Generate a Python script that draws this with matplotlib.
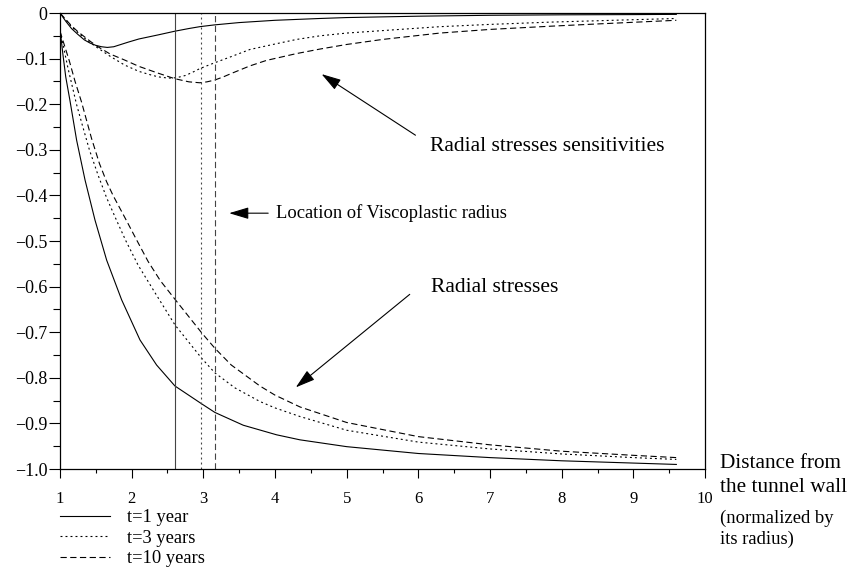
import matplotlib
matplotlib.use("Agg")
import matplotlib.pyplot as plt
from matplotlib.ticker import FixedLocator, FixedFormatter

plt.rcParams['font.family'] = ['Liberation Serif', 'DejaVu Serif']
plt.rcParams['lines.scale_dashes'] = False

# ---------------- data ----------------
# Radial stress sensitivities
sens_t1_x = [1.0, 1.08, 1.16, 1.25, 1.34, 1.42, 1.5, 1.58, 1.66, 1.75, 1.85, 1.95, 2.1, 2.25,
             2.37, 2.6, 2.8, 2.95, 3.16, 3.5, 4.0, 4.63, 5.0, 6.0, 7.0, 8.0, 9.0, 9.6]
sens_t1_y = [0.0, -0.018, -0.034, -0.047, -0.059, -0.066, -0.071, -0.074, -0.0755, -0.074,
             -0.069, -0.064, -0.057, -0.052, -0.048, -0.040, -0.034, -0.030, -0.026, -0.021,
             -0.016, -0.012, -0.010, -0.007, -0.005, -0.004, -0.0035, -0.003]

sens_t3_x = [1.0, 1.08, 1.16, 1.25, 1.34, 1.43, 1.53, 1.7, 1.9, 2.1, 2.25, 2.37, 2.47, 2.56,
             2.65, 2.75, 2.85, 2.95, 3.16, 3.4, 3.65, 4.0, 4.3, 4.63, 5.0, 5.74, 6.3, 7.0,
             7.84, 8.5, 9.6]
sens_t3_y = [0.0, -0.015, -0.030, -0.043, -0.055, -0.066, -0.077, -0.095, -0.114, -0.128,
             -0.135, -0.140, -0.142, -0.143, -0.141, -0.137, -0.130, -0.122, -0.109, -0.095,
             -0.080, -0.068, -0.058, -0.050, -0.044, -0.036, -0.030, -0.025, -0.020, -0.017,
             -0.012]

sens_t10_x = [1.0, 1.08, 1.16, 1.25, 1.34, 1.43, 1.53, 1.7, 1.9, 2.1, 2.37, 2.6, 2.8, 2.95,
              3.05, 3.16, 3.28, 3.4, 3.65, 3.88, 4.3, 4.63, 5.0, 5.5, 6.3, 7.0, 7.84, 8.5, 9.6]
sens_t10_y = [0.0, -0.014, -0.028, -0.041, -0.052, -0.063, -0.074, -0.090, -0.103, -0.117,
              -0.132, -0.144, -0.151, -0.153, -0.151, -0.147, -0.140, -0.132, -0.116, -0.104,
              -0.089, -0.079, -0.069, -0.058, -0.044, -0.036, -0.029, -0.024, -0.016]

# Radial stresses
stress_t1_x = [1.0, 1.04, 1.08, 1.14, 1.232, 1.349, 1.488, 1.651, 1.86, 2.116, 2.348, 2.604,
               2.976, 3.162, 3.557, 4.022, 4.347, 5.0, 6.0, 7.0, 8.0, 9.0, 9.6]
stress_t1_y = [-0.035, -0.09, -0.14, -0.193, -0.279, -0.366, -0.454, -0.542, -0.629, -0.717,
               -0.772, -0.818, -0.857, -0.876, -0.904, -0.925, -0.936, -0.951, -0.966,
               -0.975, -0.982, -0.987, -0.99]

stress_t3_x = [1.0, 1.05, 1.11, 1.17, 1.23, 1.31, 1.41, 1.53, 1.65, 1.79, 1.92, 2.09, 2.32,
               2.604, 2.976, 3.16, 3.44, 3.79, 4.0, 4.35, 5.0, 6.0, 7.0, 8.0, 9.0, 9.6]
stress_t3_y = [-0.04, -0.075, -0.12, -0.16, -0.20, -0.245, -0.30, -0.355, -0.405, -0.455,
               -0.50, -0.553, -0.612, -0.684, -0.757, -0.789, -0.822, -0.852, -0.866,
               -0.885, -0.915, -0.941, -0.956, -0.967, -0.975, -0.979]

stress_t10_x = [1.0, 1.05, 1.13, 1.21, 1.30, 1.44, 1.55, 1.65, 1.74, 1.93, 2.06, 2.23, 2.4,
                2.6, 2.98, 3.16, 3.39, 3.79, 4.0, 4.35, 5.0, 6.0, 7.0, 8.0, 9.0, 9.6]
stress_t10_y = [-0.04, -0.065, -0.105, -0.15, -0.195, -0.275, -0.33, -0.37, -0.40, -0.456,
                -0.495, -0.545, -0.587, -0.627, -0.702, -0.735, -0.772, -0.818, -0.838,
                -0.864, -0.898, -0.929, -0.947, -0.961, -0.970, -0.975]

# Viscoplastic radius locations
vp_radius = [2.6, 2.97, 3.16]

legend_labels = ["t=1 year", "t=3 years", "t=10 years"]
x_ticks = [1, 2, 3, 4, 5, 6, 7, 8, 9, 10]
x_minor = [1.5, 2.5, 3.5, 4.5, 5.5, 6.5, 7.5, 8.5, 9.5]
y_ticks = [0, -0.1, -0.2, -0.3, -0.4, -0.5, -0.6, -0.7, -0.8, -0.9, -1.0]
y_ticklabels = ["0", "\u22120.1", "\u22120.2", "\u22120.3", "\u22120.4", "\u22120.5",
                "\u22120.6", "\u22120.7", "\u22120.8", "\u22120.9", "\u22121.0"]
y_minor = [-0.05, -0.15, -0.25, -0.35, -0.45, -0.55, -0.65, -0.75, -0.85, -0.95]

# ---------------- styles ----------------
solid = '-'
dotted = (0, (1.4, 2.2))
dashed = (0, (4.5, 2.5))
styles = [solid, dotted, dashed]
lw = 0.8

W, H = 848, 573
fig = plt.figure(figsize=(W / 100, H / 100), dpi=100)
ax = fig.add_axes([60 / W, 1 - 469 / H, 645 / W, 456 / H])

handles = []
for xs, ys, st in [(sens_t1_x, sens_t1_y, solid), (sens_t3_x, sens_t3_y, dotted),
                   (sens_t10_x, sens_t10_y, dashed)]:
    ax.plot(xs, ys, color='black', lw=lw, linestyle=st)
for xs, ys, st, lab in [(stress_t1_x, stress_t1_y, solid, legend_labels[0]),
                        (stress_t3_x, stress_t3_y, dotted, legend_labels[1]),
                        (stress_t10_x, stress_t10_y, dashed, legend_labels[2])]:
    h, = ax.plot(xs, ys, color='black', lw=lw, linestyle=st, label=lab)
    handles.append(h)
for xv, st in zip(vp_radius, styles):
    ax.axvline(xv, color='#444444', lw=lw, linestyle=st)

ax.set_xlim(1, 10)
ax.set_ylim(-1, 0)
ax.xaxis.set_major_locator(FixedLocator(x_ticks))
ax.xaxis.set_major_formatter(FixedFormatter([str(v) for v in x_ticks]))
ax.xaxis.set_minor_locator(FixedLocator(x_minor))
ax.yaxis.set_major_locator(FixedLocator(y_ticks))
ax.yaxis.set_major_formatter(FixedFormatter(y_ticklabels))
ax.yaxis.set_minor_locator(FixedLocator(y_minor))
ax.tick_params(axis='x', which='major', direction='out', length=6.5, width=0.8,
               pad=9, labelsize=12)
ax.tick_params(axis='x', which='minor', direction='out', length=3, width=0.8)
ax.tick_params(axis='y', which='major', direction='out', length=8, width=0.8,
               pad=1, labelsize=13)
ax.tick_params(axis='y', which='minor', direction='out', length=5, width=0.8)
for s in ax.spines.values():
    s.set_linewidth(0.9)

arrow_kw = dict(arrowstyle='-|>,head_length=0.6,head_width=0.18', color='black',
                lw=0.8, shrinkA=0, shrinkB=0, mutation_scale=20)

# Radial stresses sensitivities
ax.annotate('', xy=(4.65, -0.134), xytext=(5.96, -0.268), arrowprops=arrow_kw)
ax.text(6.16, -0.292, 'Radial stresses sensitivities', fontsize=15.5, va='center', ha='left')

# Viscoplastic radius
ax.annotate('', xy=(3.36, -0.439), xytext=(3.905, -0.439), arrowprops=arrow_kw)
ax.text(4.02, -0.439, 'Location of Viscoplastic radius', fontsize=13.3, va='center', ha='left')

# Radial stresses
ax.annotate('', xy=(4.29, -0.821), xytext=(5.88, -0.617), arrowprops=arrow_kw)
ax.text(6.17, -0.603, 'Radial stresses', fontsize=15.5, va='center', ha='left')

# axis description at right
fig.text(720 / W, 1 - 463 / H, 'Distance from', fontsize=15.3, va='center', ha='left')
fig.text(720 / W, 1 - 488 / H, 'the tunnel wall', fontsize=15.3, va='center', ha='left')
fig.text(720 / W, 1 - 518 / H, '(normalized by', fontsize=13.4, va='center', ha='left')
fig.text(720 / W, 1 - 539 / H, 'its radius)', fontsize=13.4, va='center', ha='left')

leg = fig.legend(handles=handles, labels=legend_labels, loc='upper left',
                 bbox_to_anchor=(60 / W, 1 - 509 / H), frameon=False, fontsize=13.3,
                 handlelength=2.7, handletextpad=0.95, labelspacing=0.2,
                 borderpad=0, borderaxespad=0)

fig.savefig('out.png', dpi=100)
